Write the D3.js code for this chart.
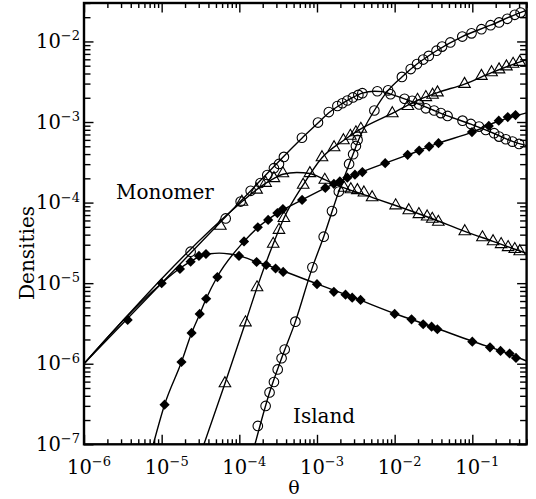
<!DOCTYPE html>
<html>
<head>
<meta charset="utf-8">
<script src="https://cdn.jsdelivr.net/npm/d3@7"></script>
<style>
  body { margin: 0; background: #fff; }
  text { font-family: "DejaVu Serif", serif; fill: #000; }
</style>
</head>
<body>
<div id="chart"></div>
<script>
// tick values / labels
let thetaMajor = [1e-6, 1e-5, 1e-4, 1e-3, 1e-2, 1e-1];
let thetaLabels = ["-6", "-5", "-4", "-3", "-2", "-1"];
let densMajor = [1e-7, 1e-6, 1e-5, 1e-4, 1e-3, 1e-2];
let densLabels = ["-7", "-6", "-5", "-4", "-3", "-2"];

// monomer densities, simulation points [theta, density]
let diamondMonomerPts = [[3.65e-6,3.5e-6],[1.0e-5,1.0e-5],[1.72e-5,1.5e-5],[2.36e-5,1.85e-5],[3.02e-5,2.18e-5],[3.72e-5,2.3e-5],
  [9.9e-5,2.18e-5],[1.67e-4,1.83e-5],[2.22e-4,1.68e-5],[2.93e-4,1.52e-5],[3.67e-4,1.38e-5],
  [1.0e-3,9.7e-6],[1.65e-3,7.8e-6],[2.33e-3,7.2e-6],[2.84e-3,6.6e-6],[3.64e-3,6.2e-6],
  [1.0e-2,4.15e-6],[1.65e-2,3.56e-6],[2.33e-2,3.09e-6],[2.99e-2,2.88e-6],[3.55e-2,2.68e-6],
  [0.1,1.88e-6],[0.169,1.6e-6],[0.231,1.44e-6],[0.302,1.34e-6],[0.365,1.18e-6]];
let triangleMonomerPts = [[5.7e-5,5.13e-5],[1.08e-4,1.02e-4],[1.67e-4,1.44e-4],[2.18e-4,1.75e-4],[2.79e-4,2.0e-4],[3.64e-4,2.3e-4],
  [8.1e-4,2.31e-4],[1.26e-3,1.91e-4],[2.24e-3,1.52e-4],[2.73e-3,1.46e-4],[3.31e-3,1.42e-4],[4.02e-3,1.33e-4],[5.13e-3,1.16e-4],
  [1.03e-2,9.2e-5],[1.52e-2,8.0e-5],[2.05e-2,7.16e-5],[2.62e-2,6.7e-5],[3.05e-2,6.27e-5],[3.65e-2,5.75e-5],
  [8.0e-2,4.39e-5],[0.135,3.69e-5],[0.185,3.3e-5],[0.235,3.04e-5],[0.289,2.79e-5],[0.352,2.64e-5],[0.408,2.48e-5]];
let circleMonomerPts = [[2.36e-5,2.46e-5],[6.67e-5,6.36e-5],[1.04e-4,1.03e-4],[1.4e-4,1.4e-4],[1.87e-4,1.75e-4],[2.29e-4,2.2e-4],
  [2.79e-4,2.67e-4],[3.24e-4,3.02e-4],[3.75e-4,3.69e-4],[6.4e-4,6.38e-4],[1.03e-3,9.84e-4],[1.42e-3,1.33e-3],[1.83e-3,1.58e-3],
  [2.12e-3,1.71e-3],[2.46e-3,1.85e-3],[2.9e-3,2.02e-3],[3.41e-3,2.17e-3],[3.84e-3,2.28e-3],[5.98e-3,2.41e-3],[8.85e-3,2.21e-3],
  [1.34e-2,1.94e-3],[1.68e-2,1.83e-3],[2.07e-2,1.65e-3],[2.52e-2,1.48e-3],[3.22e-2,1.39e-3],[3.94e-2,1.29e-3],[4.8e-2,1.19e-3],
  [7.48e-2,1.04e-3],[9.58e-2,9.47e-4],[0.122,8.77e-4],[0.149,7.98e-4],[0.191,7.26e-4],[0.221,6.59e-4],[0.27,6.11e-4],
  [0.329,5.71e-4],[0.4,5.35e-4]];

// island densities, simulation points
let diamondIslandPts = [[1.09e-5,3.1e-7],[1.8e-5,1.05e-6],[2.43e-5,2.41e-6],[3.09e-5,4.15e-6],[3.74e-5,6.4e-6],[5.22e-5,1.19e-5],
  [1.15e-4,3.3e-5],[1.73e-4,4.94e-5],[2.35e-4,6.1e-5],[3.09e-4,7.4e-5],[3.64e-4,8.3e-5],[6.43e-4,1.08e-4],
  [1.28e-3,1.52e-4],[1.65e-3,1.71e-4],[1.97e-3,1.83e-4],[2.46e-3,2.04e-4],[3.08e-3,2.22e-4],[3.84e-3,2.39e-4],
  [7.55e-3,3.08e-4],[1.47e-2,3.91e-4],[2.07e-2,4.42e-4],[2.78e-2,4.96e-4],[3.67e-2,5.46e-4],
  [0.099,7.5e-4],[0.163,8.95e-4],[0.219,1.04e-3],[0.286,1.15e-3],[0.36,1.22e-3]];
let triangleIslandPts = [[6.53e-5,5.71e-7],[1.2e-4,3.25e-6],[1.69e-4,8.85e-6],[2.73e-4,3.07e-5],[3.24e-4,4.57e-5],[3.75e-4,6.4e-5],
  [6.64e-4,1.66e-4],[1.16e-3,3.64e-4],[1.66e-3,4.84e-4],[2.19e-3,5.92e-4],[2.69e-3,6.71e-4],[3.17e-3,7.43e-4],[3.67e-3,8.2e-4],
  [9.33e-3,1.28e-3],[1.48e-2,1.57e-3],[1.97e-2,1.88e-3],[2.52e-2,2.03e-3],[3.08e-2,2.17e-3],[3.56e-2,2.32e-3],
  [7.94e-2,2.96e-3],[0.131,3.72e-3],[0.177,4.13e-3],[0.221,4.48e-3],[0.275,4.88e-3],[0.335,5.26e-3],[0.408,5.55e-3]];
let circleIslandPts = [[1.73e-4,1.69e-7],[2.18e-4,2.99e-7],[2.45e-4,4.4e-7],[2.79e-4,5.93e-7],[3.12e-4,8.49e-7],[3.5e-4,1.17e-6],
  [3.84e-4,1.5e-6],[5.27e-4,3.33e-6],[8.73e-4,1.57e-5],[1.22e-3,3.77e-5],[1.56e-3,7.84e-5],[1.91e-3,1.37e-4],
  [2.59e-3,3.02e-4],[2.92e-3,3.99e-4],[3.17e-3,5.05e-4],[3.33e-3,6.0e-4],[5.48e-3,1.39e-3],[8.24e-3,2.47e-3],
  [1.24e-2,3.63e-3],[1.61e-2,4.54e-3],[1.94e-2,5.24e-3],[2.33e-2,5.96e-3],[2.75e-2,6.62e-3],[3.46e-2,7.67e-3],
  [4.08e-2,8.63e-3],[5.21e-2,9.72e-3],[7.43e-2,1.15e-2],[9.77e-2,1.26e-2],[0.131,1.42e-2],[0.172,1.59e-2],
  [0.221,1.72e-2],[0.282,1.91e-2],[0.352,2.14e-2],[0.419,2.28e-2]];

// theory curves
let diamondMonomerCurve = [[1e-6,1e-6],[1e-5,1e-5],[1.7e-5,1.52e-5],[2.4e-5,1.88e-5],[3.2e-5,2.18e-5],[4.2e-5,2.32e-5],[5.5e-5,2.36e-5],
  [7.5e-5,2.3e-5],[1e-4,2.18e-5],[1.7e-4,1.83e-5],[3e-4,1.52e-5],[1e-3,9.8e-6],[3e-3,6.6e-6],[1e-2,4.2e-6],[3e-2,2.9e-6],
  [0.1,1.9e-6],[0.3,1.32e-6],[0.5,1.08e-6]];
let triangleMonomerCurve = [[1e-6,1e-6],[1e-4,9.6e-5],[1.67e-4,1.45e-4],[2.8e-4,2.0e-4],[3.64e-4,2.25e-4],[5.5e-4,2.36e-4],
  [8.1e-4,2.3e-4],[1.26e-3,1.93e-4],[2.24e-3,1.52e-4],[5.13e-3,1.16e-4],[1.03e-2,9.2e-5],[3.05e-2,6.3e-5],[8e-2,4.4e-5],
  [0.185,3.3e-5],[0.5,2.34e-5]];
let circleMonomerCurve = [[1e-6,1e-6],[1e-4,1e-4],[6.4e-4,6.3e-4],[1.03e-3,9.7e-4],[1.42e-3,1.3e-3],[2.12e-3,1.7e-3],[2.9e-3,2.02e-3],
  [3.84e-3,2.28e-3],[5.5e-3,2.41e-3],[7e-3,2.38e-3],[8.85e-3,2.22e-3],[1.34e-2,1.94e-3],[2.07e-2,1.66e-3],[3.22e-2,1.39e-3],
  [4.8e-2,1.19e-3],[9.58e-2,9.4e-4],[0.191,7.2e-4],[0.329,5.75e-4],[0.5,5.1e-4]];
let diamondIslandCurve = [[7.8e-6,1e-7],[1.09e-5,3.1e-7],[1.8e-5,1.05e-6],[2.43e-5,2.4e-6],[3.1e-5,4.15e-6],[3.74e-5,6.4e-6],
  [5.2e-5,1.2e-5],[1.15e-4,3.3e-5],[1.73e-4,4.9e-5],[3.1e-4,7.4e-5],[6.4e-4,1.08e-4],[1.65e-3,1.71e-4],[3.8e-3,2.4e-4],
  [1.47e-2,3.9e-4],[3.67e-2,5.46e-4],[0.1,7.5e-4],[0.22,1.03e-3],[0.5,1.3e-3]];
let triangleIslandCurve = [[3.5e-5,1e-7],[6.53e-5,5.7e-7],[1.2e-4,3.25e-6],[1.69e-4,8.8e-6],[2.73e-4,3.07e-5],[3.75e-4,6.4e-5],
  [6.64e-4,1.66e-4],[1.16e-3,3.6e-4],[2.19e-3,5.9e-4],[3.67e-3,8.2e-4],[9.33e-3,1.28e-3],[1.97e-2,1.86e-3],[3.56e-2,2.32e-3],
  [7.94e-2,2.96e-3],[0.177,4.1e-3],[0.335,5.2e-3],[0.5,5.9e-3]];
let circleIslandCurve = [[1.59e-4,1e-7],[2.45e-4,4.4e-7],[3.5e-4,1.17e-6],[5.27e-4,3.33e-6],[8.73e-4,1.57e-5],[1.22e-3,3.77e-5],
  [1.91e-3,1.37e-4],[2.92e-3,4e-4],[3.33e-3,5.6e-4],[5.48e-3,1.39e-3],[8.24e-3,2.47e-3],[1.24e-2,3.63e-3],[1.94e-2,5.24e-3],
  [3.46e-2,7.67e-3],[7.43e-2,1.15e-2],[0.172,1.59e-2],[0.352,2.14e-2],[0.5,2.43e-2]];

let svgWidth = 536;
let svgHeight = 499;
let plotLeft = 84, plotRight = 526.6, plotTop = 3, plotBottom = 444.3;

let svg = d3.select("#chart")
    .append("svg")
    .attr("width", svgWidth)
    .attr("height", svgHeight);

let x = d3.scaleLog().domain([1e-6, 0.5]).range([plotLeft, plotRight]);
let y = d3.scaleLog().domain([1e-7, 0.03]).range([plotBottom, plotTop]);

// minor ticks 2..9 per decade
function minors(majors, max) {
    let out = [];
    majors.forEach(d => {
        for (let k = 2; k <= 9; k++) if (k * d <= max * 1.0001) out.push(k * d);
    });
    return out;
}
let thetaMinor = minors(thetaMajor, 0.5);
let densMinor = minors(densMajor, 0.03);

svg.append("clipPath").attr("id", "plotclip")
    .append("rect").attr("x", plotLeft).attr("y", plotTop)
    .attr("width", plotRight - plotLeft).attr("height", plotBottom - plotTop);

let plot = svg.append("g").attr("clip-path", "url(#plotclip)");

// curves
let line = d3.line()
    .x(d => x(d[0]))
    .y(d => y(d[1]))
    .curve(d3.curveMonotoneX);

[diamondMonomerCurve, triangleMonomerCurve, circleMonomerCurve,
 diamondIslandCurve, triangleIslandCurve, circleIslandCurve].forEach(c => {
    plot.append("path")
        .attr("d", line(c))
        .attr("fill", "none")
        .attr("stroke", "#000")
        .attr("stroke-width", 1.4);
});

// markers
function drawCircles(pts) {
    plot.append("g").selectAll("circle")
        .data(pts)
        .enter()
        .append("circle")
        .attr("cx", d => x(d[0]))
        .attr("cy", d => y(d[1]))
        .attr("r", 4.8)
        .attr("fill", "none")
        .attr("stroke", "#000")
        .attr("stroke-width", 1.1);
}
function drawTriangles(pts) {
    let sym = d3.symbol().type(d3.symbolTriangle).size(58);
    plot.append("g").selectAll("path")
        .data(pts)
        .enter()
        .append("path")
        .attr("d", sym)
        .attr("transform", d => `translate(${x(d[0])},${y(d[1])})`)
        .attr("fill", "none")
        .attr("stroke", "#000")
        .attr("stroke-width", 1.1);
}
function drawDiamonds(pts) {
    let sym = d3.symbol().type(d3.symbolSquare).size(52);
    plot.append("g").selectAll("path")
        .data(pts)
        .enter()
        .append("path")
        .attr("d", sym)
        .attr("transform", d => `translate(${x(d[0])},${y(d[1])}) rotate(45)`)
        .attr("fill", "#000");
}
drawCircles(circleMonomerPts);
drawCircles(circleIslandPts);
drawTriangles(triangleMonomerPts);
drawTriangles(triangleIslandPts);
drawDiamonds(diamondMonomerPts);
drawDiamonds(diamondIslandPts);

// ticks, inward on all four sides
function ticks(axis, vals, size, transform) {
    let g = svg.append("g")
        .attr("transform", transform)
        .call(axis.tickValues(vals).tickSize(-size).tickFormat(""));
    g.select(".domain").remove();
    g.selectAll("line").attr("stroke", "#000").attr("stroke-width", 1.4);
}
ticks(d3.axisBottom(x), thetaMajor, 9.5, `translate(0,${plotBottom})`);
ticks(d3.axisBottom(x), thetaMinor, 5, `translate(0,${plotBottom})`);
ticks(d3.axisTop(x), thetaMajor, 9.5, `translate(0,${plotTop})`);
ticks(d3.axisTop(x), thetaMinor, 5, `translate(0,${plotTop})`);
ticks(d3.axisLeft(y), densMajor, 9.5, `translate(${plotLeft},0)`);
ticks(d3.axisLeft(y), densMinor, 6.5, `translate(${plotLeft},0)`);
ticks(d3.axisRight(y), densMajor, 9.5, `translate(${plotRight},0)`);
ticks(d3.axisRight(y), densMinor, 6.5, `translate(${plotRight},0)`);

svg.append("rect")
    .attr("x", plotLeft).attr("y", plotTop)
    .attr("width", plotRight - plotLeft).attr("height", plotBottom - plotTop)
    .attr("fill", "none")
    .attr("stroke", "#000")
    .attr("stroke-width", 2.4);

// tick labels
thetaMajor.forEach((v, i) => {
    let t = svg.append("text")
        .attr("x", x(v) + 5)
        .attr("y", 474)
        .attr("text-anchor", "middle")
        .attr("font-size", 19.5);
    t.append("tspan").text("10");
    t.append("tspan").attr("dy", -8).attr("font-size", 13).text(thetaLabels[i].replace("-", "\u2212"));
});
densMajor.forEach((v, i) => {
    let t = svg.append("text")
        .attr("x", 80)
        .attr("y", y(v) + 6.5)
        .attr("text-anchor", "end")
        .attr("font-size", 19.5);
    t.append("tspan").text("10");
    t.append("tspan").attr("dy", -7.5).attr("font-size", 13).text(densLabels[i].replace("-", "\u2212"));
});

// axis titles
svg.append("text")
    .attr("x", 294).attr("y", 494)
    .attr("text-anchor", "middle")
    .attr("font-size", 19)
    .text("\u03b8");
svg.append("text")
    .attr("transform", "translate(34,253) rotate(-90)")
    .attr("text-anchor", "middle")
    .attr("font-size", 20)
    .text("Densities");

// curve annotations
svg.append("text").attr("x", 116).attr("y", 199).attr("font-size", 20).text("Monomer");
svg.append("text").attr("x", 293).attr("y", 423).attr("font-size", 20).text("Island");
</script>
</body>
</html>
